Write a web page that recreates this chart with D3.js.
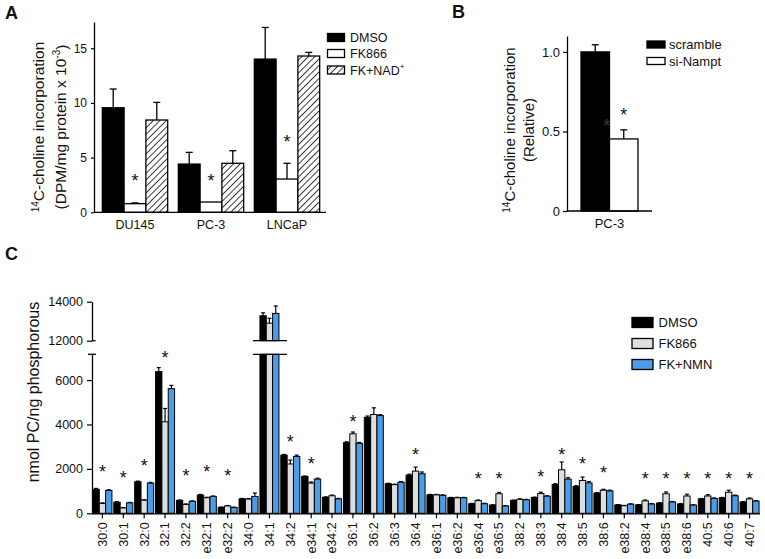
<!DOCTYPE html>
<html><head><meta charset="utf-8">
<script src="https://cdn.jsdelivr.net/npm/d3@7"></script>
<style>
body{margin:0;background:#fff}
svg{display:block}
text{font-family:"Liberation Sans",Arial,Helvetica,sans-serif;fill:#111}
</style>
</head><body>
<svg id="chart" width="765" height="559"></svg>
<script>
// ---------- Panel A data ----------
const aCategories = ["DU145", "PC-3", "LNCaP"];
const aSeriesNames = ["DMSO", "FK866", "FK+NAD"];
const aDMSO = [9.56, 4.41, 14.01];
const aDMSOErr = [1.71, 1.07, 2.89];
const aFK866 = [0.79, 0.94, 3.04];
const aFK866Err = [0.07, 0.0, 1.44];
const aFKNAD = [8.44, 4.48, 14.29];
const aFKNADErr = [1.61, 1.15, 0.33];
const aStarLevel = [3.25, 3.25, 6.76];
const aTicks = [0, 5, 10, 15];

// ---------- Panel B data ----------
const bCategories = ["PC-3"];
const bSeriesNames = ["scramble", "si-Nampt"];
const bValues = [1.0, 0.453];
const bErr = [0.045, 0.057];
const bStarLevel = 0.63;
const bTicks = [0, 0.5, 1.0];

// ---------- Panel C data ----------
const cCategories = ["30:0","30:1","32:0","32:1","32:2","e32:1","e32:2","34:0","34:1","34:2","e34:1","e34:2",
  "36:1","36:2","36:3","36:4","e36:1","e36:2","e36:4","e36:5","38:2","38:3","38:4","38:5","38:6",
  "e38:2","e38:4","e38:5","e38:6","40:5","40:6","40:7"];
const cSeriesNames = ["DMSO", "FK866", "FK+NMN"];
const cDMSO = [1080,500,1420,6380,580,820,270,650,13280,2620,1660,720,3180,4320,1330,1720,830,700,430,370,580,710,1300,1210,910,380,380,460,420,650,700,510];
const cDMSOErr = [40,20,30,180,20,30,10,20,150,30,20,20,40,60,20,40,20,15,15,15,15,20,30,30,20,10,10,15,15,15,15,15];
const cFK866 = [440,240,590,4120,400,700,330,640,12900,2220,1360,790,3580,4450,1290,1900,830,700,570,880,630,890,1960,1480,1040,340,560,880,780,780,950,650];
const cFK866Err = [30,20,20,600,20,20,20,20,250,180,50,30,80,300,20,180,20,20,30,60,20,60,350,150,40,15,40,80,80,60,90,40];
const cFKNMN = [1030,470,1360,5610,540,760,260,760,13400,2560,1540,650,3150,4400,1400,1780,810,700,430,330,610,770,1540,1370,1010,410,420,510,370,670,790,550];
const cFKNMNErr = [30,20,30,150,20,20,15,150,380,60,40,20,40,40,30,80,20,15,20,15,15,20,60,60,30,15,20,20,15,20,30,20];
const cStarLevel = [2030,1750,2330,7160,1850,2030,1850,null,null,3380,2400,null,4270,null,null,2820,null,null,1720,1720,null,1800,2800,2400,1990,null,1720,1720,1720,1720,1720,1720];
const cLowTicks = [0, 2000, 4000, 6000];
const cHighTicks = [12000, 14000];

const svg = d3.select("#chart");
const FONT = '"Liberation Sans",Arial,Helvetica,sans-serif';

// hatch pattern
const defs = svg.append("defs");
const pat = defs.append("pattern").attr("id", "hatch").attr("patternUnits", "userSpaceOnUse")
  .attr("width", 4.6).attr("height", 4.6).attr("patternTransform", "rotate(45)");
pat.append("rect").attr("width", 4.6).attr("height", 4.6).attr("fill", "#fff");
pat.append("line").attr("x1", 0).attr("y1", 0).attr("x2", 0).attr("y2", 4.6)
  .attr("stroke", "#000").attr("stroke-width", 1.5);

function styleAxis(g, fs) {
  g.selectAll("path.domain").attr("stroke", "#000").attr("stroke-width", 1.3);
  g.selectAll(".tick line").attr("stroke", "#000").attr("stroke-width", 1.2);
  g.selectAll(".tick text").attr("font-family", FONT).attr("font-size", fs).attr("fill", "#111");
}

function errBar(g, cx, yTop, yErr, cap, sw) {
  g.append("line").attr("x1", cx).attr("x2", cx).attr("y1", yTop).attr("y2", yErr)
    .attr("stroke", "#000").attr("stroke-width", sw);
  g.append("line").attr("x1", cx - cap / 2).attr("x2", cx + cap / 2).attr("y1", yErr).attr("y2", yErr)
    .attr("stroke", "#000").attr("stroke-width", sw);
}

// panel letters
svg.append("text").attr("x", 5).attr("y", 19).attr("font-size", 18).attr("font-weight", "bold").text("A");
svg.append("text").attr("x", 452).attr("y", 18).attr("font-size", 18).attr("font-weight", "bold").text("B");
svg.append("text").attr("x", 5).attr("y", 260).attr("font-size", 18).attr("font-weight", "bold").text("C");

// ================= Panel A =================
{
  const g = svg.append("g");
  const x0 = d3.scaleBand().domain(aCategories).range([97, 325]).paddingInner(0.14).paddingOuter(0.07);
  const x1 = d3.scaleBand().domain(aSeriesNames).range([0, x0.bandwidth()]);
  const y = d3.scaleLinear().domain([0, 17.4]).range([212.3, 22]);
  const fills = ["#000", "#fff", "url(#hatch)"];
  const vals = [aDMSO, aFK866, aFKNAD];
  const errs = [aDMSOErr, aFK866Err, aFKNADErr];

  aCategories.forEach((c, i) => {
    aSeriesNames.forEach((s, k) => {
      const v = vals[k][i];
      const bx = x0(c) + x1(s);
      const cx = bx + x1.bandwidth() / 2;
      if (errs[k][i] > 0) errBar(g, cx, y(v), y(v + errs[k][i]), 7, 1.3);
      g.append("rect").attr("x", bx).attr("y", y(v)).attr("width", x1.bandwidth()).attr("height", y(0) - y(v))
        .attr("fill", fills[k]).attr("stroke", "#000").attr("stroke-width", 1.3);
    });
    g.append("text").attr("x", x0(c) + x0.bandwidth() / 2).attr("y", y(aStarLevel[i]) + 10)
      .attr("text-anchor", "middle").attr("font-size", 18).text("*");
  });

  const ya = g.append("g").attr("transform", "translate(94,0)")
    .call(d3.axisLeft(y).tickValues(aTicks).tickSize(3).tickSizeOuter(0).tickPadding(4));
  styleAxis(ya, 12);
  const xa = g.append("g").attr("transform", "translate(0,212.3)")
    .call(d3.axisBottom(x0).tickSize(0).tickSizeOuter(0).tickPadding(8));
  xa.select("path.domain").remove();
  g.append("line").attr("x1", 94).attr("x2", 326).attr("y1", 212.3).attr("y2", 212.3)
    .attr("stroke", "#000").attr("stroke-width", 1.3);
  styleAxis(xa, 12.5);

  // y label
  const lab = g.append("text").attr("transform", "translate(44,127) rotate(-90)")
    .attr("text-anchor", "middle").attr("font-size", 15.5).attr("dy", "0.35em");
  lab.append("tspan").attr("font-size", 10).attr("dy", "-0.5em").text("14");
  lab.append("tspan").attr("dy", "0.33em").text("C-choline incorporation");
  const lab2 = g.append("text").attr("transform", "translate(61,127) rotate(-90)")
    .attr("text-anchor", "middle").attr("font-size", 15.5).attr("dy", "0.35em");
  lab2.append("tspan").text("(DPM/mg protein x 10");
  lab2.append("tspan").attr("font-size", 10).attr("dy", "-0.6em").text("-3");
  lab2.append("tspan").attr("dy", "0.4em").text(")");

  // legend
  const lg = g.append("g");
  const ly = [37.5, 53.5, 70];
  aSeriesNames.forEach((s, k) => {
    lg.append("rect").attr("x", 327.5).attr("y", ly[k] - 4).attr("width", 17).attr("height", 8)
      .attr("fill", fills[k]).attr("stroke", "#000").attr("stroke-width", 1.3);
    const t = lg.append("text").attr("x", 350).attr("y", ly[k]).attr("dy", "0.36em").attr("font-size", 12.5);
    if (s === "FK+NAD") {
      t.append("tspan").text("FK+NAD");
      t.append("tspan").attr("font-size", 8).attr("dy", "-0.7em").text("+");
    } else t.text(s);
  });
}

// ================= Panel B =================
{
  const g = svg.append("g");
  const x0 = d3.scaleBand().domain(bCategories).range([567, 652]).paddingInner(0).paddingOuter(0.246);
  const x1 = d3.scaleBand().domain(bSeriesNames).range([0, x0.bandwidth()]);
  const y = d3.scaleLinear().domain([0, 1.1]).range([211, 36]);
  const fills = ["#000", "#fff"];
  bSeriesNames.forEach((s, k) => {
    const v = bValues[k];
    const bx = x0(bCategories[0]) + x1(s);
    const cx = bx + x1.bandwidth() / 2;
    errBar(g, cx, y(v), y(v + bErr[k]), 7, 1.3);
    g.append("rect").attr("x", bx).attr("y", y(v)).attr("width", x1.bandwidth()).attr("height", y(0) - y(v))
      .attr("fill", fills[k]).attr("stroke", "#000").attr("stroke-width", 1.3);
  });
  const cxW = x0(bCategories[0]) + x1("si-Nampt") + x1.bandwidth() / 2;
  g.append("text").attr("x", cxW).attr("y", y(bStarLevel) + 10).attr("text-anchor", "middle")
    .attr("font-size", 18).text("*");
  const cxB = x0(bCategories[0]) + x1("scramble") + x1.bandwidth() * 0.9;
  g.append("text").attr("x", cxB).attr("y", y(bStarLevel - 0.07) + 10).attr("text-anchor", "middle")
    .attr("font-size", 18).style("fill", "#3c3c3c").text("*");

  const ya = g.append("g").attr("transform", "translate(567,0)")
    .call(d3.axisLeft(y).tickValues(bTicks).tickSize(4).tickSizeOuter(0).tickPadding(3)
      .tickFormat(d => d === 0 ? "0" : d3.format(".1f")(d)));
  styleAxis(ya, 13);
  const xa = g.append("g").attr("transform", "translate(0,211)")
    .call(d3.axisBottom(x0).tickSize(0).tickSizeOuter(0).tickPadding(8));
  xa.select("path.domain").remove();
  g.append("line").attr("x1", 567).attr("x2", 652).attr("y1", 211).attr("y2", 211)
    .attr("stroke", "#000").attr("stroke-width", 1.3);
  styleAxis(xa, 13);

  const lab = g.append("text").attr("transform", "translate(515,130) rotate(-90)")
    .attr("text-anchor", "middle").attr("font-size", 15).attr("dy", "0.35em");
  lab.append("tspan").attr("font-size", 10).attr("dy", "-0.5em").text("14");
  lab.append("tspan").attr("dy", "0.33em").text("C-choline incorporation");
  g.append("text").attr("transform", "translate(529,130) rotate(-90)")
    .attr("text-anchor", "middle").attr("font-size", 15).attr("dy", "0.35em").text("(Relative)");

  const ly = [44.5, 61];
  bSeriesNames.forEach((s, k) => {
    g.append("rect").attr("x", 647).attr("y", ly[k] - 3.5).attr("width", 18).attr("height", 7)
      .attr("fill", fills[k]).attr("stroke", "#000").attr("stroke-width", 1.3);
    g.append("text").attr("x", 669).attr("y", ly[k]).attr("dy", "0.36em").attr("font-size", 13).text(s);
  });
}

// ================= Panel C =================
{
  const g = svg.append("g");
  const AX = 92;
  const x0 = d3.scaleBand().domain(cCategories).range([AX, 760]).paddingInner(0.09).paddingOuter(0.045);
  const x1 = d3.scaleBand().domain(cSeriesNames).range([0, x0.bandwidth()]);
  const yLow = d3.scaleLinear().domain([0, 7160]).range([513.3, 354.3]);
  const yHigh = d3.scaleLinear().domain([12000, 14000]).range([340.7, 301.7]);
  const fills = ["#000", "#dedede", "#4b9de8"];
  const vals = [cDMSO, cFK866, cFKNMN];
  const errs = [cDMSOErr, cFK866Err, cFKNMNErr];
  const yv = v => v > 7160 ? yHigh(v) : yLow(v);

  cCategories.forEach((c, i) => {
    cSeriesNames.forEach((s, k) => {
      const v = vals[k][i];
      const bx = x0(c) + x1(s);
      const w = x1.bandwidth();
      const cx = bx + w / 2;
      errBar(g, cx, yv(v), yv(v + errs[k][i]), 4, 1.2);
      if (v > 7160) {
        g.append("rect").attr("x", bx).attr("y", yLow.range()[1]).attr("width", w)
          .attr("height", yLow(0) - yLow.range()[1])
          .attr("fill", fills[k]).attr("stroke", "#000").attr("stroke-width", 1);
        g.append("rect").attr("x", bx).attr("y", yHigh(v)).attr("width", w)
          .attr("height", yHigh(12000) - yHigh(v))
          .attr("fill", fills[k]).attr("stroke", "#000").attr("stroke-width", 1);
      } else {
        g.append("rect").attr("x", bx).attr("y", yLow(v)).attr("width", w).attr("height", yLow(0) - yLow(v))
          .attr("fill", fills[k]).attr("stroke", "#000").attr("stroke-width", 1);
      }
    });
    if (cStarLevel[i] !== null) {
      g.append("text").attr("x", x0(c) + x0.bandwidth() / 2).attr("y", yLow(cStarLevel[i]) + 10)
        .attr("text-anchor", "middle").attr("font-size", 18).text("*");
    }
    if (d3.max([cDMSO[i], cFK866[i], cFKNMN[i]]) > 7160) {
      [yHigh(12000), yLow.range()[1]].forEach(yy => {
        g.append("line").attr("x1", x0(c) - 7).attr("x2", x0(c) + x0.bandwidth() + 8).attr("y1", yy).attr("y2", yy)
          .attr("stroke", "#000").attr("stroke-width", 1.3);
      });
    }
  });

  const yaL = g.append("g").attr("transform", `translate(${AX},0)`)
    .call(d3.axisLeft(yLow).tickValues(cLowTicks).tickSize(5).tickSizeOuter(0).tickPadding(4).tickFormat(d3.format("d")));
  styleAxis(yaL, 12.5);
  const yaH = g.append("g").attr("transform", `translate(${AX},0)`)
    .call(d3.axisLeft(yHigh).tickValues(cHighTicks).tickSize(5).tickSizeOuter(0).tickPadding(4).tickFormat(d3.format("d")));
  styleAxis(yaH, 12.5);
  g.append("line").attr("x1", AX - 4).attr("x2", AX + 4).attr("y1", yLow.range()[1]).attr("y2", yLow.range()[1])
    .attr("stroke", "#000").attr("stroke-width", 1.3);
  g.append("line").attr("x1", AX).attr("x2", AX + 3.5).attr("y1", yHigh(12000)).attr("y2", yHigh(12000))
    .attr("stroke", "#000").attr("stroke-width", 1.3);

  const xa = g.append("g").attr("transform", "translate(0,513.3)")
    .call(d3.axisBottom(x0).tickSize(5).tickSizeOuter(0));
  xa.select("path.domain").attr("d", `M${AX},0.5H760`);
  styleAxis(xa, 12.5);
  xa.selectAll(".tick text").attr("transform", "rotate(-90)").attr("text-anchor", "end")
    .attr("x", -9).attr("y", 0).attr("dy", "0.35em");

  g.append("text").attr("transform", "translate(33,392) rotate(-90)").attr("text-anchor", "middle")
    .attr("dy", "0.35em").attr("font-size", 16).text("nmol PC/ng phosphorous");

  const ly = [322.5, 343.5, 364.5];
  cSeriesNames.forEach((s, k) => {
    g.append("rect").attr("x", 632).attr("y", ly[k] - 5).attr("width", 21).attr("height", 10)
      .attr("fill", fills[k]).attr("stroke", "#000").attr("stroke-width", 1.3);
    g.append("text").attr("x", 658.5).attr("y", ly[k]).attr("dy", "0.36em").attr("font-size", 13).text(s);
  });
}
</script>
</body></html>
